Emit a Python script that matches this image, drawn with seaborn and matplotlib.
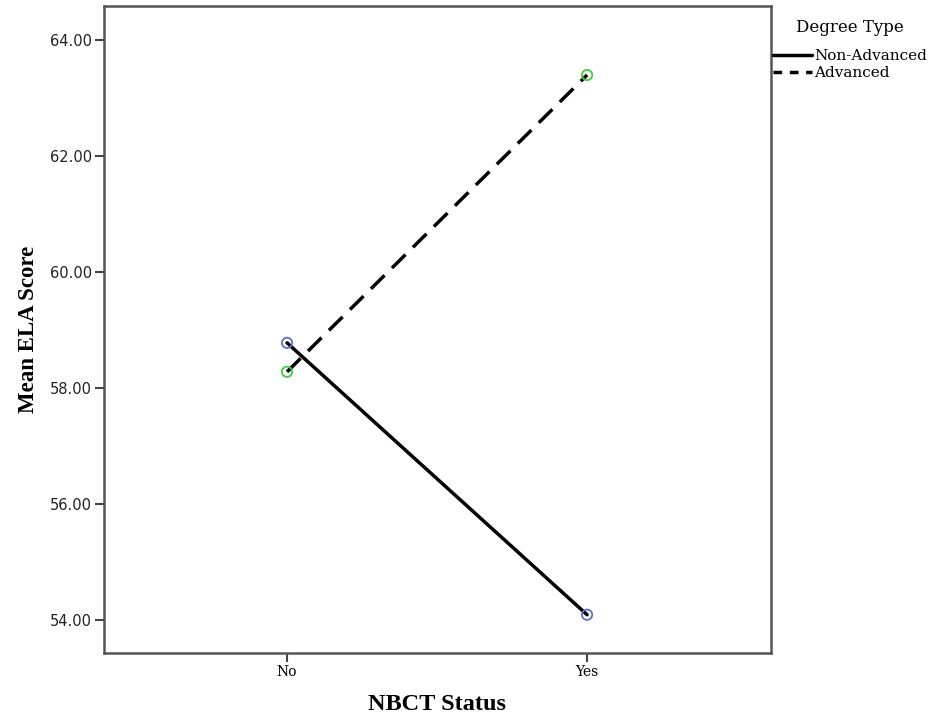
import matplotlib
matplotlib.use("Agg")
import matplotlib.pyplot as plt
from matplotlib.lines import Line2D
import seaborn as sns
import pandas as pd

# Data
status = ["No", "Yes"]
non_advanced = [58.78, 54.09]
advanced = [58.28, 63.40]
degree_types = ["Non-Advanced", "Advanced"]
y_ticks = [54, 56, 58, 60, 62, 64]

df = pd.DataFrame({
    "NBCT Status": status * 2,
    "Mean ELA Score": non_advanced + advanced,
    "Degree Type": [degree_types[0]] * 2 + [degree_types[1]] * 2,
})

sns.set_style("white")
plt.rcParams["font.family"] = ["DejaVu Serif"]
plt.rcParams["text.color"] = "black"
plt.rcParams["axes.labelcolor"] = "black"
plt.rcParams["xtick.color"] = "black"
plt.rcParams["ytick.color"] = "black"

fig = plt.figure(figsize=(9.29, 7.17), dpi=100)
ax = fig.add_axes([104 / 929, 1 - 653 / 717, (771 - 104) / 929, (653 - 6) / 717])

sns.lineplot(data=df, x="NBCT Status", y="Mean ELA Score", style="Degree Type",
             style_order=degree_types,
             dashes={"Non-Advanced": "", "Advanced": (5.5, 3)},
             color="black", linewidth=2.5, legend=False, ax=ax, sort=False)

marker_colors = {"Non-Advanced": "#5b6ed6", "Advanced": "#3ccf3c"}
sns.scatterplot(data=df, x="NBCT Status", y="Mean ELA Score", hue="Degree Type",
                hue_order=degree_types, palette=marker_colors, s=55,
                legend=False, ax=ax, zorder=5, linewidth=1.3)
for coll in ax.collections:
    fc = coll.get_facecolors()
    coll.set_edgecolors(fc)
    coll.set_facecolors("none")

ax.set_xlim(-0.61, 1.613)
ax.set_ylim(53.43, 64.59)
ax.set_yticks(y_ticks)
ax.set_yticklabels([f"{v:.2f}" for v in y_ticks], family="DejaVu Sans", fontsize=10.5,
                   color="#222222")
ax.set_xticks([0, 1])
ax.set_xticklabels(status, fontsize=10, color="black")

ax.set_xlabel("NBCT Status", fontsize=17.5, fontweight="bold", labelpad=11,
              family="Liberation Serif", color="black")
ax.set_ylabel("Mean ELA Score", fontsize=16.5, fontweight="bold", labelpad=8,
              family="Liberation Serif", color="black")

for sp in ax.spines.values():
    sp.set_color("#555555")
    sp.set_linewidth(1.8)
ax.tick_params(axis="both", which="both", direction="out", length=6.5, width=1.5,
               color="#444444", left=True, bottom=True, pad=2)

handles = [Line2D([], [], color="black", linewidth=2.5, linestyle="-"),
           Line2D([], [], color="black", linewidth=2.5, linestyle=(0, (2.5, 2.2)))]
leg = ax.legend(handles, degree_types, title="Degree Type",
                loc="upper left", bbox_to_anchor=(0.998, 0.984),
                frameon=False, fontsize=11, title_fontsize=12,
                handlelength=2.6, handletextpad=0.1, borderaxespad=0,
                labelspacing=0.22, borderpad=0.2, labelcolor="black")
leg._legend_box.sep = 9
leg.get_title().set_color("black")

fig.savefig("out.png", dpi=100)
